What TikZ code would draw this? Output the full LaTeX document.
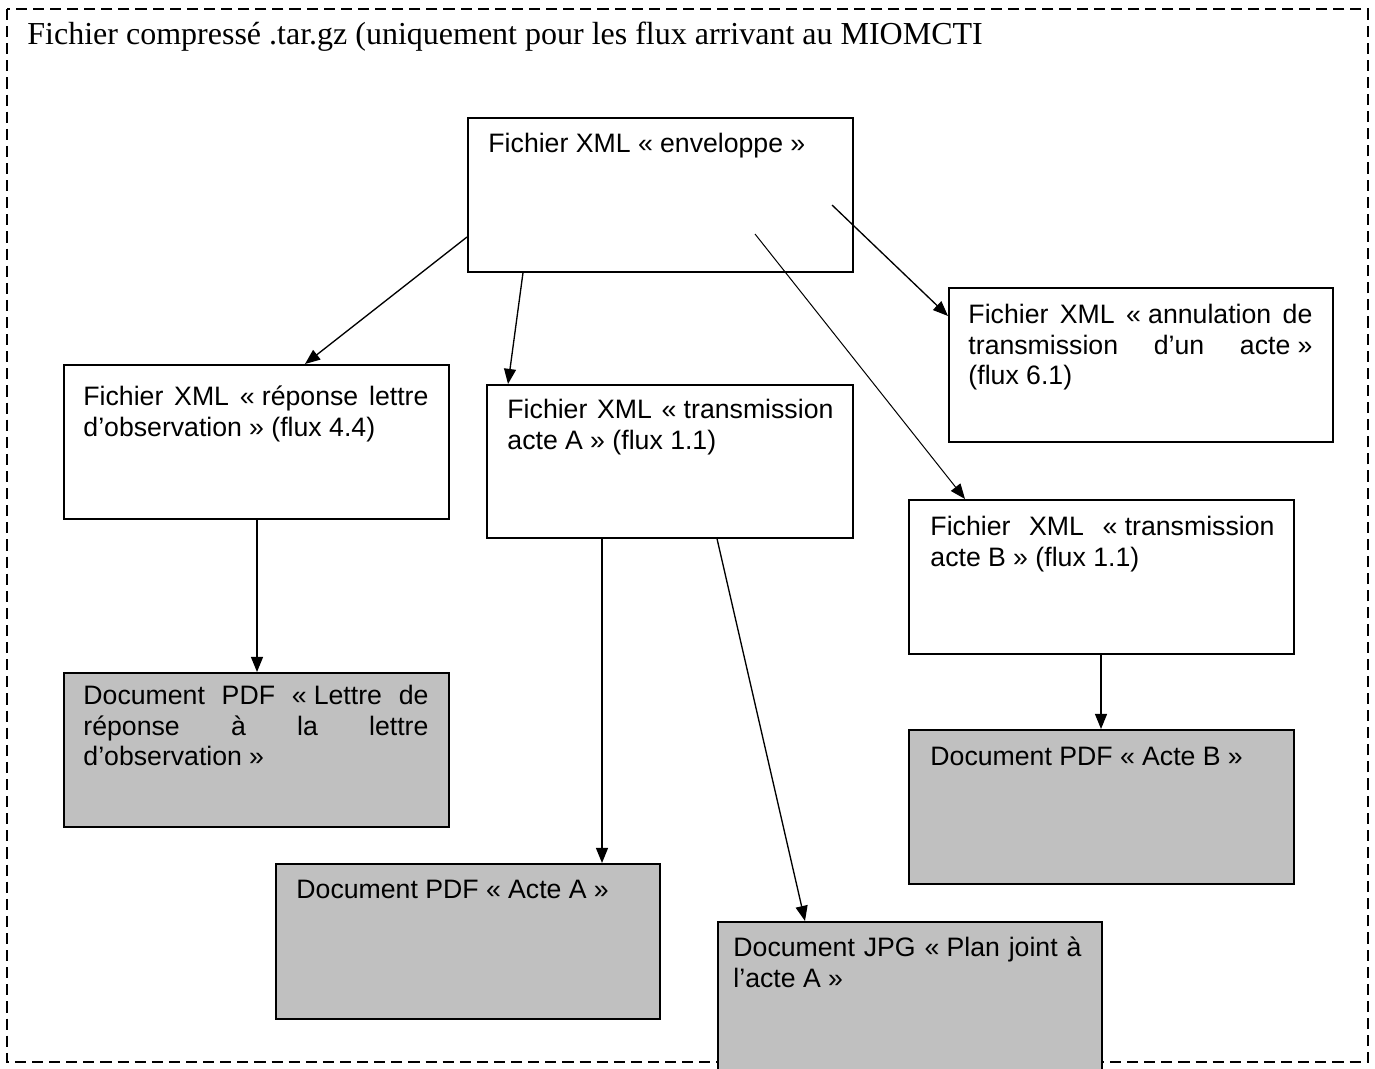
\documentclass[tikz,border=0pt]{standalone}
\usepackage{fontspec}
\setmainfont{Liberation Serif}
\newfontfamily\arialfont{Liberation Sans}
\usetikzlibrary{arrows.meta,calc}
\definecolor{boxgray}{HTML}{C0C0C0}
\newcommand\gopen{«\kern.27em}
\newcommand\gclose{\kern.27em»}
\tolerance=10000
\hyphenpenalty=10000
\hbadness=10000
\begin{document}
\begin{tikzpicture}[x=0.45pt,y=-0.45pt,
  frame/.style={draw, line width=0.55pt, dash pattern=on 5pt off 2.7pt},
  box/.style 2 args={draw, line width=0.75pt, fill=white, anchor=north west, inner sep=0pt,
    minimum width=#1*0.45pt, minimum height=#2*0.45pt},
  doc/.style 2 args={box={#1}{#2}, fill=boxgray},
  txt/.style={anchor=north west, inner sep=0pt, text width=#1*0.45pt, align=justify,
    font=\arialfont\fontsize{12}{13.8}\selectfont},
  arr/.style={line width=0.6pt, -{Triangle[length=6.8pt,width=5.4pt]}},
  thinarr/.style={arr, line width=0.45pt}
]
\useasboundingbox (0,0) rectangle (1375,1068);
\clip (0,0) rectangle (1375,1068);

\draw[frame] (7,9) rectangle (1368,1062);
\node[anchor=base west, inner sep=0pt, font=\fontsize{14.4}{16.5}\selectfont] (title) at (27,45)
  {Fichier compressé .tar.gz (uniquement pour les flux arrivant au MIOMCTI};

% boxes
\node[box={385}{154}] (env) at (467,117) {};
\node[box={385}{154}] (rep) at (63,364) {};
\node[box={366}{153}] (ta)  at (486,384) {};
\node[box={384}{154}] (ann) at (948,287) {};
\node[box={385}{154}] (tb)  at (908,499) {};
\node[doc={385}{154}] (pl)  at (63,672) {};
\node[doc={384}{155}] (pa)  at (275,863) {};
\node[doc={384}{220}] (jpg) at (717,921) {};
\node[doc={385}{154}] (pb)  at (908,729) {};

% texts
\node[txt=345] (tenv) at (488,130.5) {\strut Fichier XML \gopen enveloppe\gclose};
\node[txt=345] (trep) at (83,383.5) {\strut Fichier XML \gopen réponse lettre\linebreak d’observation\gclose{} (flux 4.4)};
\node[txt=326] (tta)  at (507,396.5) {\strut Fichier XML \gopen transmission\linebreak acte A\gclose{} (flux 1.1)};
\node[txt=344] (tann) at (968,301.5) {\strut Fichier XML \gopen annulation de\linebreak transmission d’un acte\gclose\linebreak (flux 6.1)};
\node[txt=344] (ttb)  at (930,513.5) {\strut Fichier XML \gopen transmission\linebreak acte B\gclose{} (flux 1.1)};
\node[txt=345] (tpl)  at (83,682.5) {\strut Document PDF \gopen Lettre de\linebreak réponse à la lettre\linebreak d’observation\gclose};
\node[txt=344] (tpa)  at (296,876.5) {\strut Document PDF \gopen Acte A\gclose};
\node[txt=348] (tjpg) at (733,934.5) {\strut Document JPG \gopen Plan joint à\linebreak l’acte A\gclose};
\node[txt=344] (tpb)  at (930,743.5) {\strut Document PDF \gopen Acte B\gclose};

% connectors
\draw[arr] ($(env.north west)+(0,120)$) -- ($(rep.north west)+(242,0)$);
\draw[arr] ($(env.south west)+(56,0)$) -- ($(ta.north west)+(22,0)$);
\draw[arr] ($(env.north west)+(365,88)$) -- ($(ann.north west)+(0,29)$);
\draw[thinarr] ($(env.north west)+(288,117)$) -- ($(tb.north west)+(57,0)$);
\draw[arr] ($(rep.south west)+(194,0)$) -- ($(pl.north west)+(194,0)$);
\draw[arr] ($(ta.south west)+(116,0)$) -- ($(pa.north west)+(327,0)$);
\draw[arr] ($(ta.south west)+(231,0)$) -- ($(jpg.north west)+(88,0)$);
\draw[arr] ($(tb.south west)+(193,0)$) -- ($(pb.north west)+(193,0)$);
\end{tikzpicture}
\end{document}
